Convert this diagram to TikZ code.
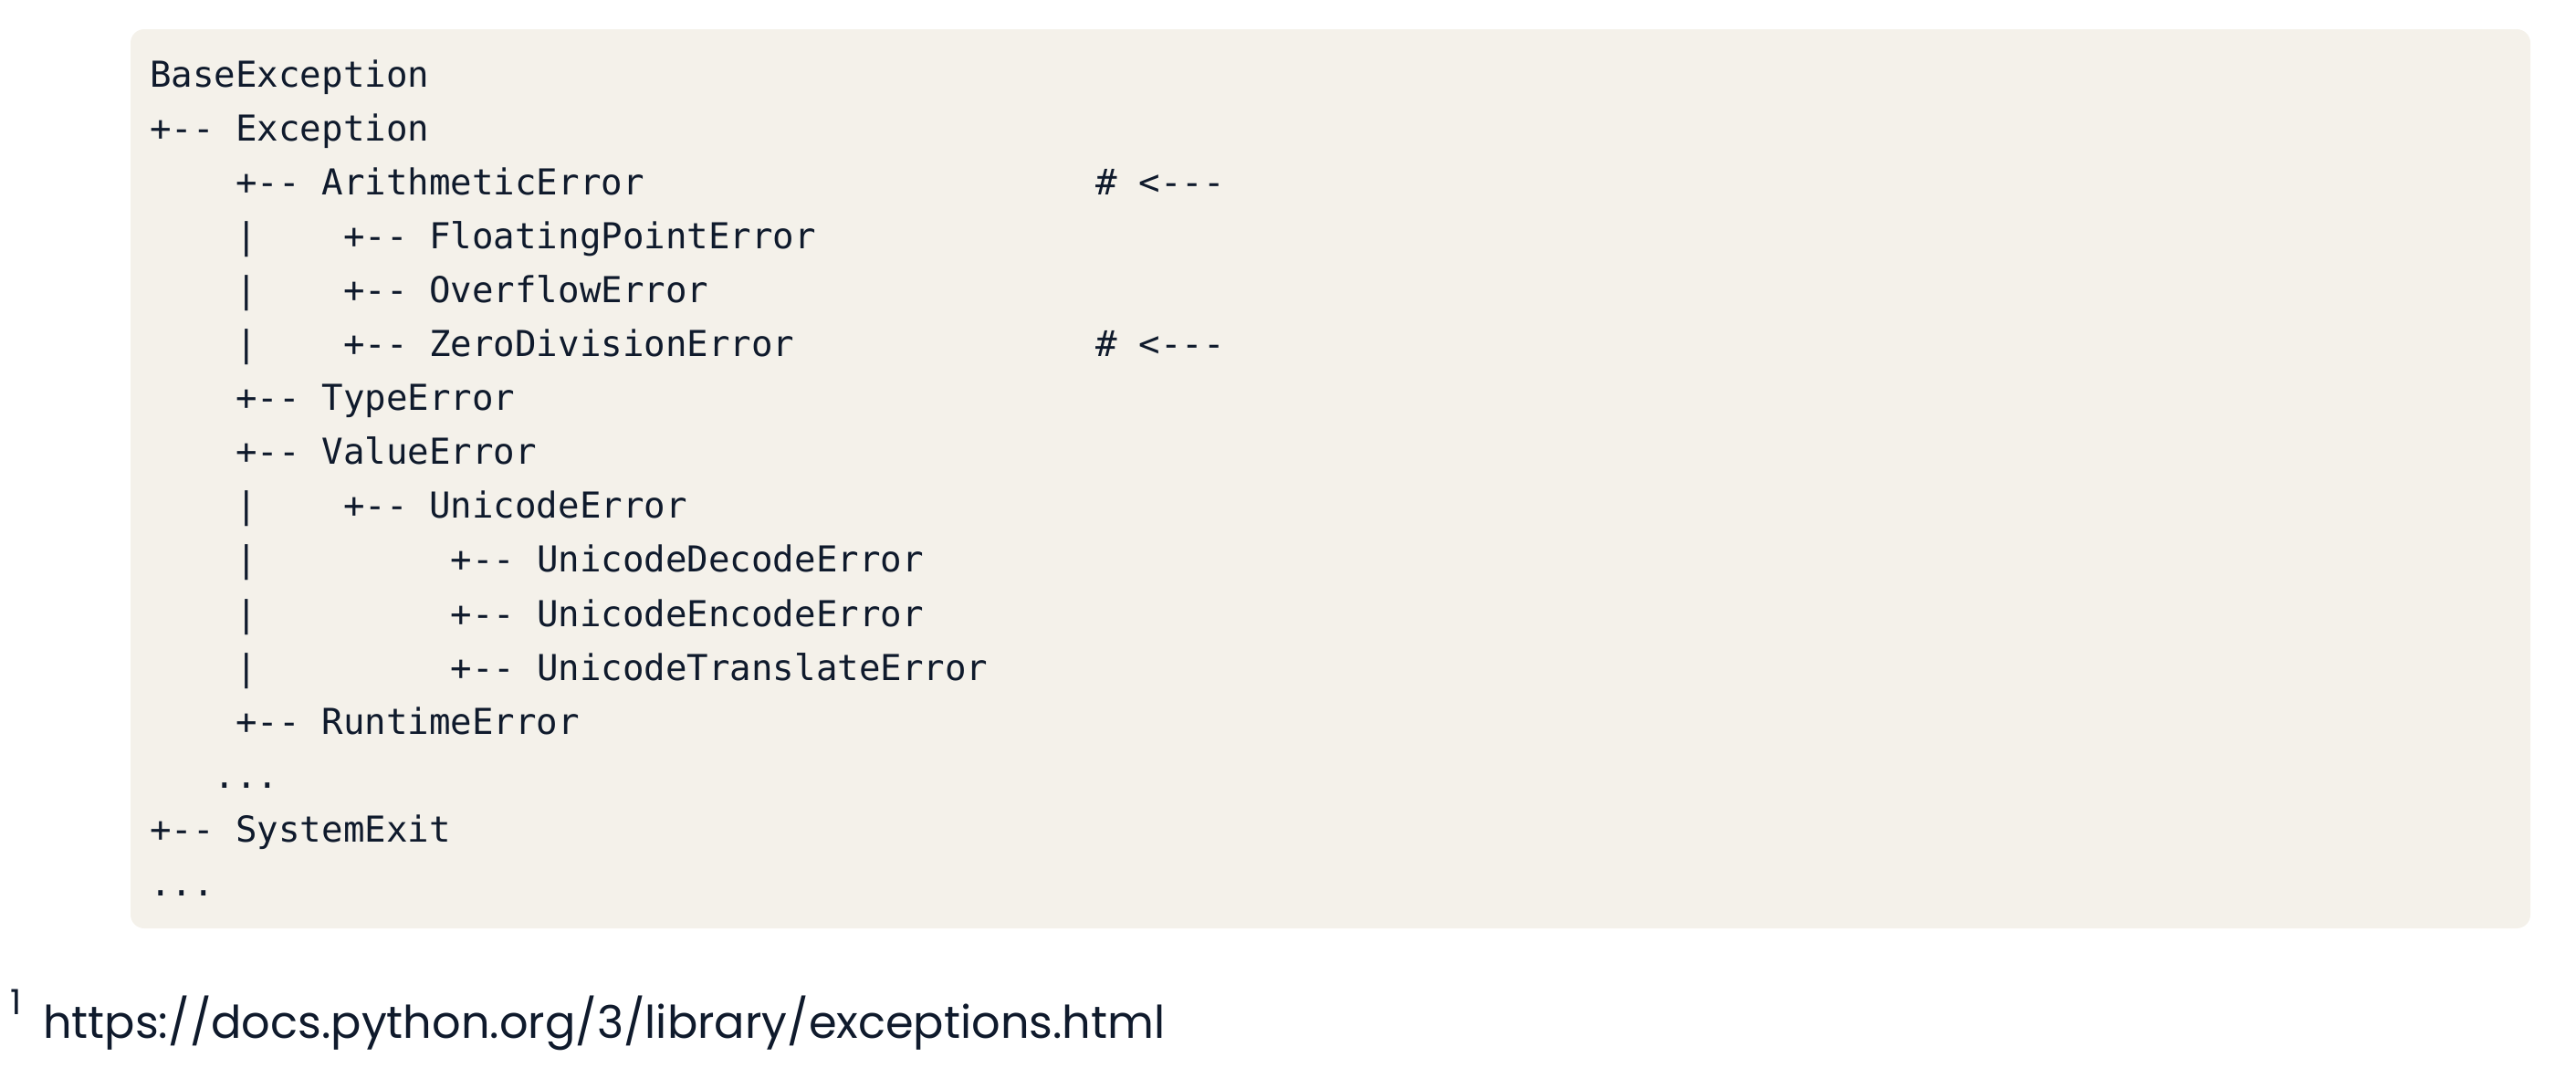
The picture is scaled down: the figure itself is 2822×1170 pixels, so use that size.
\documentclass[tikz,border=0pt]{standalone}
\usepackage{fontspec}
\newfontfamily\codefont[Ligatures=TeXOff]{DejaVu Sans Mono}
\newfontfamily\notefont{Poppins}
\definecolor{ink}{HTML}{0F1A2C}
\definecolor{codebg}{HTML}{F4F1EA}
\begin{document}
\begin{tikzpicture}[x=1pt,y=-1pt,
  code/.style={anchor=base west, inner sep=0pt, text=ink, font=\codefont\fontsize{39.1}{47}\selectfont},
  note/.style={anchor=base west, inner sep=0pt, text=ink}]
\useasboundingbox (0,0) rectangle (2822,1170);
\fill[codebg, rounded corners=15pt] (143,32) rectangle (2772,1017);
% row r baseline = 95 + r*59.1 ; col c x = 164 + c*23.55
\node[code] (r0)  at ({164+0*23.55},{95+0*59.1}) {BaseException};
\node[code] (r1)  at ({164+0*23.55},{95+1*59.1}) {+-- Exception};
\node[code] (r2)  at ({164+4*23.55},{95+2*59.1}) {+-- ArithmeticError};
\node[code] (r2c) at ({164+44*23.55},{95+2*59.1}) {\# <---};
\node[code] (r3a) at ({164+4*23.55},{95+3*59.1}) {|};
\node[code] (r3)  at ({164+9*23.55},{95+3*59.1}) {+-- FloatingPointError};
\node[code] (r4a) at ({164+4*23.55},{95+4*59.1}) {|};
\node[code] (r4)  at ({164+9*23.55},{95+4*59.1}) {+-- OverflowError};
\node[code] (r5a) at ({164+4*23.55},{95+5*59.1}) {|};
\node[code] (r5)  at ({164+9*23.55},{95+5*59.1}) {+-- ZeroDivisionError};
\node[code] (r5c) at ({164+44*23.55},{95+5*59.1}) {\# <---};
\node[code] (r6)  at ({164+4*23.55},{95+6*59.1}) {+-- TypeError};
\node[code] (r7)  at ({164+4*23.55},{95+7*59.1}) {+-- ValueError};
\node[code] (r8a) at ({164+4*23.55},{95+8*59.1}) {|};
\node[code] (r8)  at ({164+9*23.55},{95+8*59.1}) {+-- UnicodeError};
\node[code] (r9a) at ({164+4*23.55},{95+9*59.1}) {|};
\node[code] (r9)  at ({164+14*23.55},{95+9*59.1}) {+-- UnicodeDecodeError};
\node[code] (r10a) at ({164+4*23.55},{95+10*59.1}) {|};
\node[code] (r10) at ({164+14*23.55},{95+10*59.1}) {+-- UnicodeEncodeError};
\node[code] (r11a) at ({164+4*23.55},{95+11*59.1}) {|};
\node[code] (r11) at ({164+14*23.55},{95+11*59.1}) {+-- UnicodeTranslateError};
\node[code] (r12) at ({164+4*23.55},{95+12*59.1}) {+-- RuntimeError};
\node[code] (r13) at ({164+3*23.55},{95+13*59.1}) {...};
\node[code] (r14) at ({164+0*23.55},{95+14*59.1}) {+-- SystemExit};
\node[code] (r15) at ({164+0*23.55},{95+15*59.1}) {...};
% footnote
\node[note, font=\notefont\fontsize{38}{42}\selectfont] (fnmark) at (11,1111) {1};
\node[note] (url) at (47,1137) {\resizebox{1229pt}{!}{\notefont https://docs.python.org/3/library/exceptions.html}};
\end{tikzpicture}
\end{document}
